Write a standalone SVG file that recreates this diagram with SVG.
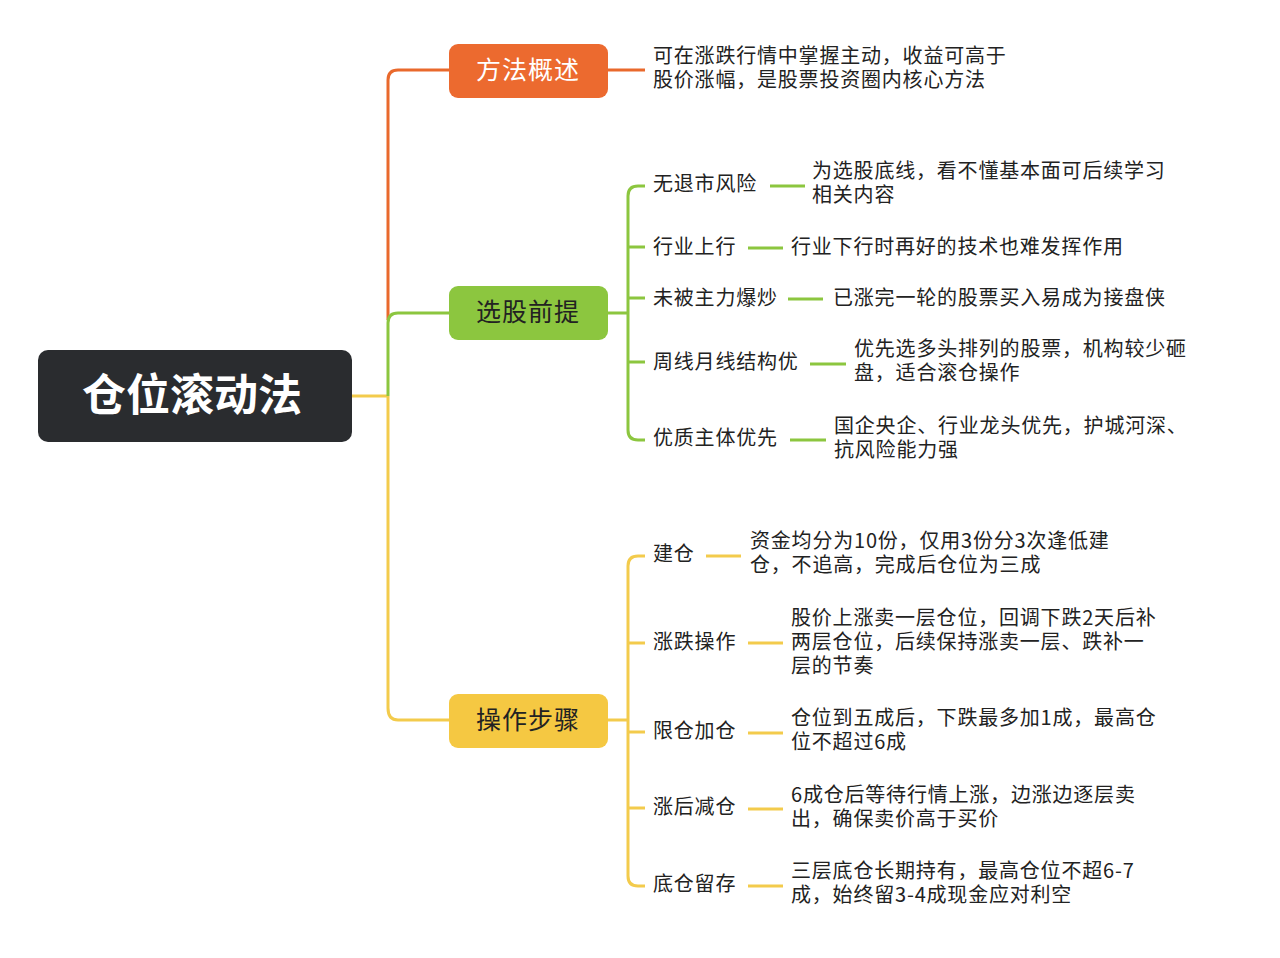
<svg xmlns="http://www.w3.org/2000/svg" width="1280" height="958" viewBox="0 0 1280 958">
<style>
text{font-family:"Noto Sans CJK SC","Noto Sans",sans-serif;fill:#222}
.t{font-size:20px;letter-spacing:0.8px}
.b{font-size:25px;text-anchor:middle;letter-spacing:1px}
.o{stroke:#e9692c;stroke-width:3;fill:none}
.g{stroke:#8cc63f;stroke-width:3;fill:none}
.y{stroke:#f3cb4c;stroke-width:3;fill:none}
</style>
<rect width="1280" height="958" fill="#fff"/>
<g id="connectors">
<path class="y" d="M352 396H388"/>
<path class="o" d="M449 70H398Q388 70 388 80V320"/>
<path class="g" d="M449 313H398Q388 313 388 323V396"/>
<path class="y" d="M388 396V708Q388 720 398 720H449"/>
<path class="o" d="M608 70H645"/>
<path class="g" d="M608 313H628M645 186H638Q628 186 628 196V430Q628 440 638 440H645M628 247H645M628 298H645M628 362H645"/>
<path class="g" d="M770 186H805M748 248H783M788 299H823M810 364H846M790 440H826"/>
<path class="y" d="M608 720H628M645 556H638Q628 556 628 566V876Q628 886 638 886H645M628 643H645M628 732H645M628 808H645"/>
<path class="y" d="M706 556H741M748 643H783M748 733H783M748 809H783M748 886H783"/>
</g>
<g id="root"><rect x="38" y="350" width="314" height="92" rx="10" fill="#2a2c2f"/><text x="192" y="411" text-anchor="middle" style="font-size:44px;font-weight:bold;fill:#fff">仓位滚动法</text></g>
<g id="b1"><rect x="449" y="44" width="159" height="54" rx="9" fill="#ec6a2f"/><text class="b" x="528" y="79" style="fill:#fff">方法概述</text></g>
<g id="b2"><rect x="449" y="286" width="159" height="54" rx="9" fill="#8cc63f"/><text class="b" x="528" y="321">选股前提</text></g>
<g id="b3"><rect x="449" y="694" width="159" height="54" rx="9" fill="#f5c842"/><text class="b" x="528" y="729">操作步骤</text></g>
<g id="d1"><text class="t" x="653" y="63">可在涨跌行情中掌握主动，收益可高于</text><text class="t" x="653" y="87">股价涨幅，是股票投资圈内核心方法</text></g>
<g id="g1"><text class="t" x="653" y="191">无退市风险</text><text class="t" x="812" y="178">为选股底线，看不懂基本面可后续学习</text><text class="t" x="812" y="202">相关内容</text></g>
<g id="g2"><text class="t" x="653" y="254">行业上行</text><text class="t" x="791" y="254">行业下行时再好的技术也难发挥作用</text></g>
<g id="g3"><text class="t" x="653" y="305">未被主力爆炒</text><text class="t" x="833" y="305">已涨完一轮的股票买入易成为接盘侠</text></g>
<g id="g4"><text class="t" x="653" y="369">周线月线结构优</text><text class="t" x="854" y="356">优先选多头排列的股票，机构较少砸</text><text class="t" x="854" y="380">盘，适合滚仓操作</text></g>
<g id="g5"><text class="t" x="653" y="445">优质主体优先</text><text class="t" x="834" y="433">国企央企、行业龙头优先，护城河深、</text><text class="t" x="834" y="457">抗风险能力强</text></g>
<g id="y1"><text class="t" x="653" y="561">建仓</text><text class="t" x="750" y="548">资金均分为10份，仅用3份分3次逢低建</text><text class="t" x="750" y="572">仓，不追高，完成后仓位为三成</text></g>
<g id="y2"><text class="t" x="653" y="649">涨跌操作</text><text class="t" x="791" y="625">股价上涨卖一层仓位，回调下跌2天后补</text><text class="t" x="791" y="649">两层仓位，后续保持涨卖一层、跌补一</text><text class="t" x="791" y="673">层的节奏</text></g>
<g id="y3"><text class="t" x="653" y="738">限仓加仓</text><text class="t" x="791" y="725">仓位到五成后，下跌最多加1成，最高仓</text><text class="t" x="791" y="749">位不超过6成</text></g>
<g id="y4"><text class="t" x="653" y="814">涨后减仓</text><text class="t" x="791" y="802">6成仓后等待行情上涨，边涨边逐层卖</text><text class="t" x="791" y="826">出，确保卖价高于买价</text></g>
<g id="y5"><text class="t" x="653" y="891">底仓留存</text><text class="t" x="791" y="878">三层底仓长期持有，最高仓位不超6-7</text><text class="t" x="791" y="902">成，始终留3-4成现金应对利空</text></g>
</svg>
